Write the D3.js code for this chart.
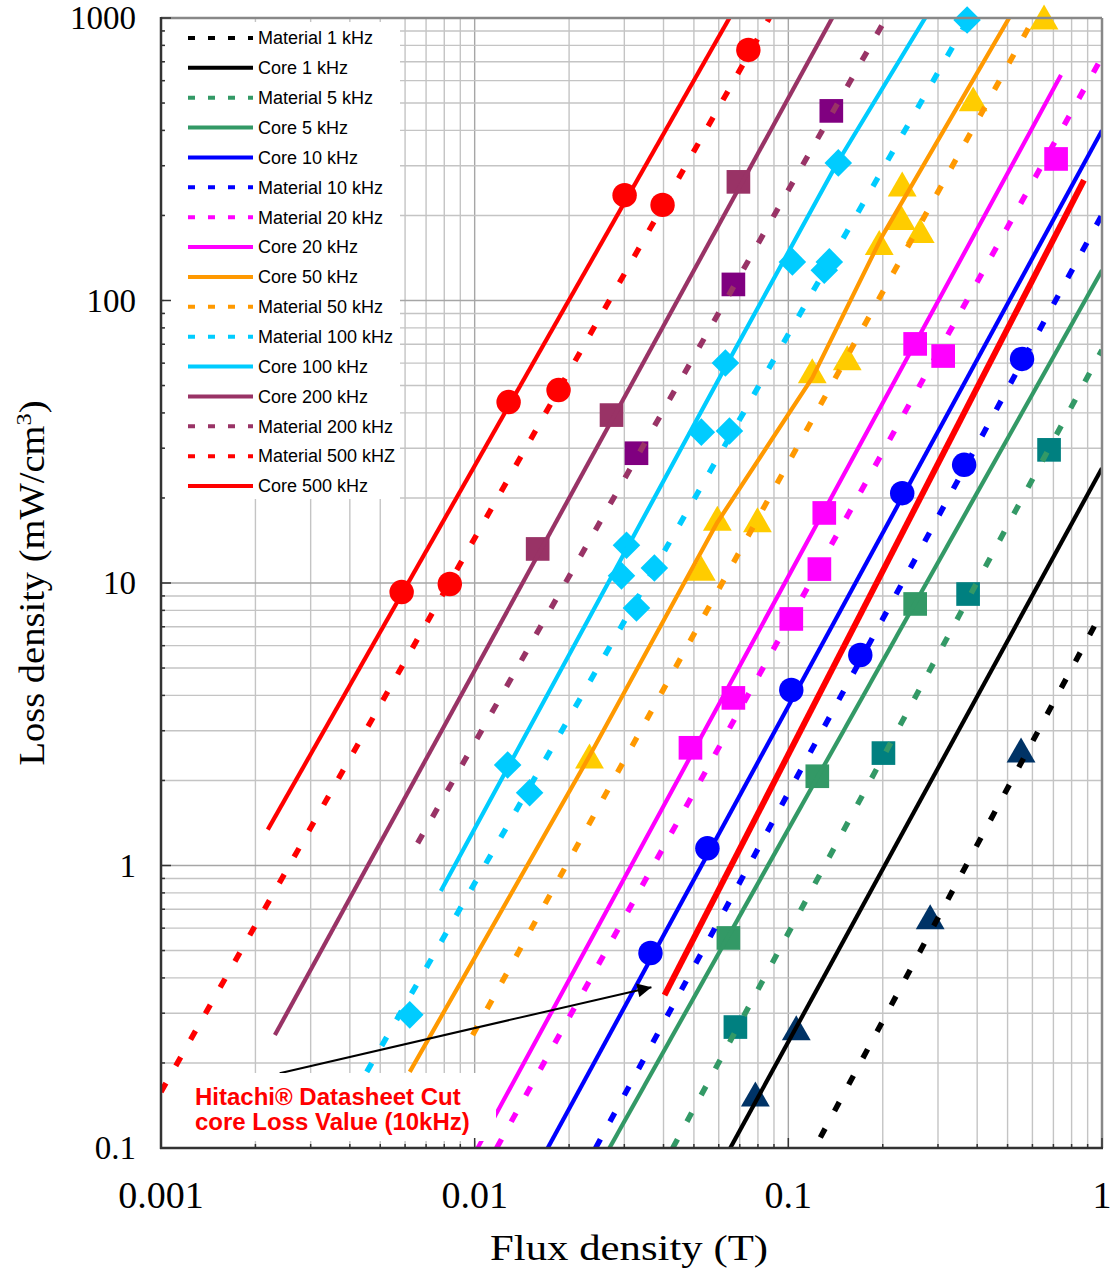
<!DOCTYPE html>
<html>
<head>
<meta charset="utf-8">
<script src="https://cdn.jsdelivr.net/npm/d3@7"></script>
<style>
  body { margin: 0; background: #fff; }
</style>
</head>
<body>
<script>
// canvas and plot box
const width = 1110, height = 1268,
  plotL = 161, plotR = 1102, plotT = 18, plotB = 1148;

// axis ticks
const xTicks = [0.001, 0.01, 0.1, 1];
const xTickLabels = ["0.001", "0.01", "0.1", "1"];
const yTicks = [0.1, 1, 10, 100, 1000];
const yTickLabels = ["0.1", "1", "10", "100", "1000"];

// curves: [flux density (T), loss density (mW/cm3)]
const mat1 = [[0.1265, 0.109], [1.0, 7.9]];
const core1 = [[0.0653, 0.1], [1.0, 25.5]];
const mat5 = [[0.0428, 0.1], [1.0, 66.8]];
const core5 = [[0.0269, 0.1], [1.0, 128]];
const core10 = [[0.0171, 0.1], [1.0, 400]];
const mat10 = [[0.0243, 0.1], [1.0, 201]];
const mat20 = [[0.01175, 0.1], [1.0, 728]];
const core20 = [[0.01022, 0.1], [0.1227, 16.0], [0.74, 628]];
const core50 = [[0.00621, 0.186], [0.02323, 2.44], [0.0594, 16.4], [0.1192, 53.2], [0.1992, 169], [0.5057, 1000]];
const mat50 = [[0.00985, 0.251], [0.607, 1000]];
const mat100 = [[0.00453, 0.186], [0.377, 1000]];
const core100 = [[0.0078, 0.812], [0.0635, 59.1], [0.143, 306], [0.273, 1000]];
const core200 = [[0.002307, 0.251], [0.138, 1000]];
const mat200 = [[0.00658, 1.2], [0.205, 1000]];
const mat500 = [[0.001, 0.158], [0.087, 1000]];
const core500 = [[0.00219, 1.34], [0.0649, 1000]];
const hitachi10 = [[0.0403, 0.348], [0.876, 267]];

// measured points
const circles500 = [[0.00585, 9.29], [0.00833, 9.92], [0.01283, 43.7], [0.01851, 48.2], [0.03006, 236], [0.03972, 218], [0.07457, 771]];
const squares200a = [[0.01588, 13.2], [0.02731, 39.3], [0.06932, 263]];
const squares200b = [[0.0328, 28.8], [0.06681, 114], [0.1371, 469]];
const diamonds100 = [[0.00621, 0.296], [0.01274, 2.27], [0.01497, 1.81], [0.02938, 10.6], [0.03048, 13.6], [0.0328, 8.16], [0.0374, 11.3], [0.0528, 34.2], [0.0649, 34.5], [0.063, 60.1], [0.103, 137], [0.1302, 128], [0.1351, 137], [0.1443, 307], [0.3715, 984]];
const triangles50 = [[0.02323, 2.36], [0.0528, 10.9], [0.0594, 16.4], [0.0797, 16.2], [0.1192, 54.5], [0.1541, 60.6], [0.1949, 155], [0.2291, 190], [0.2307, 250], [0.2633, 171], [0.3884, 500], [0.6535, 975]];
const squares20 = [[0.04875, 2.61], [0.0668, 3.92], [0.1022, 7.46], [0.1256, 11.2], [0.1302, 17.7], [0.2537, 70.2], [0.3116, 63.6], [0.7139, 317]];
const circles10 = [[0.03635, 0.49], [0.0552, 1.15], [0.1022, 4.18], [0.1696, 5.56], [0.2307, 20.8], [0.3635, 26.2], [0.556, 62.1]];
const squares5core = [[0.0644, 0.554], [0.1237, 2.07], [0.2537, 8.43]];
const squares5mat = [[0.0678, 0.268], [0.201, 2.5], [0.3742, 9.14], [0.678, 29.6]];
const triangles1 = [[0.0785, 0.15], [0.106, 0.2575], [0.2833, 0.637], [0.552, 2.48]];

// annotation arrow, tail and head
const arrowFrom = [0.00239, 0.184], arrowTo = [0.0366, 0.371];

// legend order = series order
const series = [
  { label: "Material 1 kHz", data: mat1, color: "#000000", dash: true },
  { label: "Core 1 kHz", data: core1, color: "#000000", dash: false },
  { label: "Material 5 kHz", data: mat5, color: "#339966", dash: true },
  { label: "Core 5 kHz", data: core5, color: "#339966", dash: false },
  { label: "Core 10 kHz", data: core10, color: "#0000ff", dash: false },
  { label: "Material 10 kHz", data: mat10, color: "#0000ff", dash: true },
  { label: "Material 20 kHz", data: mat20, color: "#ff00ff", dash: true },
  { label: "Core 20 kHz", data: core20, color: "#ff00ff", dash: false },
  { label: "Core 50 kHz", data: core50, color: "#ff9900", dash: false },
  { label: "Material 50 kHz", data: mat50, color: "#ff9900", dash: true },
  { label: "Material 100 kHz", data: mat100, color: "#00ccff", dash: true },
  { label: "Core 100 kHz", data: core100, color: "#00ccff", dash: false },
  { label: "Core 200 kHz", data: core200, color: "#993366", dash: false },
  { label: "Material 200 kHz", data: mat200, color: "#993366", dash: true },
  { label: "Material 500 kHZ", data: mat500, color: "#ff0000", dash: true },
  { label: "Core 500 kHz", data: core500, color: "#ff0000", dash: false }
];

const markers = [
  { data: circles500, shape: "circle", color: "#ff0000" },
  { data: squares200a, shape: "square", color: "#993366" },
  { data: squares200b, shape: "square", color: "#800080" },
  { data: diamonds100, shape: "diamond", color: "#00ccff" },
  { data: triangles50, shape: "triangle", color: "#ffcc00" },
  { data: squares20, shape: "square", color: "#ff00ff" },
  { data: circles10, shape: "circle", color: "#0000ff" },
  { data: squares5core, shape: "square", color: "#339966" },
  { data: squares5mat, shape: "square", color: "#008080" },
  { data: triangles1, shape: "triangle", color: "#003366" }
];

// scales
let xScale = d3.scaleLog().domain([0.001, 1]).range([plotL, plotR]);
let yScale = d3.scaleLog().domain([0.1, 1000]).range([plotB, plotT]);

let svg = d3.select("body").append("svg")
  .attr("width", width)
  .attr("height", height)
  .style("font-family", "'Liberation Serif', serif");

const defs = svg.append("defs");
defs.append("clipPath").attr("id", "plot")
  .append("rect")
  .attr("x", plotL).attr("y", plotT)
  .attr("width", plotR - plotL).attr("height", plotB - plotT);
defs.append("marker").attr("id", "head")
  .attr("viewBox", "0 0 10 10").attr("refX", 10).attr("refY", 5)
  .attr("markerWidth", 8).attr("markerHeight", 7)
  .attr("markerUnits", "strokeWidth")
  .attr("orient", "auto")
  .append("path").attr("d", "M0,0L10,5L0,10z").attr("fill", "#000");

// grid lines (1..9 per decade)
const isMajor = v => Math.abs(Math.log10(v) - Math.round(Math.log10(v))) < 1e-6;
let grid = svg.append("g");
grid.selectAll(".gx").data(xScale.ticks())
  .enter().append("line")
  .attr("x1", d => xScale(d)).attr("x2", d => xScale(d))
  .attr("y1", plotT).attr("y2", plotB)
  .attr("stroke", d => isMajor(d) ? "#a6a6a6" : "#c4c4c4")
  .attr("stroke-width", 1.4);
grid.selectAll(".gy").data(yScale.ticks())
  .enter().append("line")
  .attr("y1", d => yScale(d)).attr("y2", d => yScale(d))
  .attr("x1", plotL).attr("x2", plotR)
  .attr("stroke", d => isMajor(d) ? "#a6a6a6" : "#c4c4c4")
  .attr("stroke-width", 1.4);

// markers (under the curves)
const shapes = {
  circle: d3.symbol().type(d3.symbolCircle).size(470),
  square: d3.symbol().type(d3.symbolSquare).size(560),
  diamond: d3.symbol().type(d3.symbolSquare).size(380),
  triangle: d3.symbol().type(d3.symbolTriangle).size(360)
};
let marks = svg.append("g");
markers.forEach(m => {
  marks.selectAll(null).data(m.data)
    .enter().append("path")
    .attr("d", shapes[m.shape]())
    .attr("transform", d => "translate(" + xScale(d[0]) + "," + yScale(d[1]) + ")" + (m.shape === "diamond" ? " rotate(45)" : ""))
    .attr("fill", m.color);
});

// curves
let line = d3.line()
  .x(d => xScale(d[0]))
  .y(d => yScale(d[1]));
let curves = svg.append("g").attr("clip-path", "url(#plot)");
curves.selectAll("path").data(series)
  .enter().append("path")
  .attr("d", d => line(d.data))
  .attr("fill", "none")
  .attr("stroke", d => d.color)
  .attr("stroke-width", d => d.dash ? 5.5 : 4.2)
  .attr("stroke-dasharray", d => d.dash ? "10,20" : null)
  .attr("stroke-linejoin", "round");

// datasheet line
curves.append("path")
  .attr("d", line(hitachi10))
  .attr("fill", "none")
  .attr("stroke", "#ff0000")
  .attr("stroke-width", 6);

// arrow
svg.append("line")
  .attr("x1", xScale(arrowFrom[0])).attr("y1", yScale(arrowFrom[1]))
  .attr("x2", xScale(arrowTo[0])).attr("y2", yScale(arrowTo[1]))
  .attr("stroke", "#000").attr("stroke-width", 2)
  .attr("marker-end", "url(#head)");

// annotation box
let note = svg.append("g");
note.append("rect")
  .attr("x", 186).attr("y", 1073)
  .attr("width", 310).attr("height", 68)
  .attr("fill", "#fff");
note.selectAll("text").data(["Hitachi\u00AE Datasheet Cut", "core Loss Value (10kHz)"])
  .enter().append("text")
  .attr("x", 195)
  .attr("y", (d, i) => 1105 + i * 25)
  .attr("fill", "#ff0000")
  .style("font-family", "'Liberation Sans', Arial, sans-serif")
  .style("font-weight", "bold")
  .style("font-size", "24px")
  .text(d => d);

// legend
let legend = svg.append("g");
legend.append("rect")
  .attr("x", 164).attr("y", 22)
  .attr("width", 236).attr("height", 477)
  .attr("fill", "#fff");
let rows = legend.selectAll("g").data(series)
  .enter().append("g")
  .attr("transform", (d, i) => "translate(0," + (38 + i * 29.87) + ")");
rows.append("line")
  .attr("x1", 188).attr("x2", 253)
  .attr("stroke", d => d.color)
  .attr("stroke-width", 4)
  .attr("stroke-dasharray", d => d.dash ? "7,13" : null);
rows.append("text")
  .attr("x", 258).attr("dy", "0.35em")
  .style("font-family", "'Liberation Sans', Arial, sans-serif")
  .style("font-size", "18px")
  .attr("fill", "#000")
  .text(d => d.label);

// frame
svg.append("line").attr("x1", plotL).attr("x2", plotR).attr("y1", plotT).attr("y2", plotT)
  .attr("stroke", "#888").attr("stroke-width", 2.5);
svg.append("line").attr("x1", plotR).attr("x2", plotR).attr("y1", plotT).attr("y2", plotB)
  .attr("stroke", "#888").attr("stroke-width", 2.5);
svg.append("line").attr("x1", plotL).attr("x2", plotL).attr("y1", plotT - 1).attr("y2", plotB + 1)
  .attr("stroke", "#333").attr("stroke-width", 2.5);
svg.append("line").attr("x1", plotL - 1).attr("x2", plotR + 1).attr("y1", plotB).attr("y2", plotB)
  .attr("stroke", "#333").attr("stroke-width", 2.5);

// inward ticks
let ticks = svg.append("g").attr("stroke", "#333").attr("stroke-width", 1.5);
ticks.selectAll(".tx").data(xScale.ticks())
  .enter().append("line")
  .attr("x1", d => xScale(d)).attr("x2", d => xScale(d))
  .attr("y1", plotB).attr("y2", d => plotB - (isMajor(d) ? 10 : 4));
ticks.selectAll(".ty").data(yScale.ticks())
  .enter().append("line")
  .attr("y1", d => yScale(d)).attr("y2", d => yScale(d))
  .attr("x1", plotL).attr("x2", d => plotL + (isMajor(d) ? 10 : 4));

// tick labels
svg.selectAll(".xl").data(xTicks)
  .enter().append("text")
  .attr("x", d => xScale(d)).attr("y", 1208)
  .attr("text-anchor", "middle")
  .style("font-size", "38px")
  .text((d, i) => xTickLabels[i]);
svg.selectAll(".yl").data(yTicks)
  .enter().append("text")
  .attr("x", 136).attr("y", d => yScale(d) + 11)
  .attr("text-anchor", "end")
  .style("font-size", "33px")
  .text((d, i) => yTickLabels[i]);

// axis titles
svg.append("text")
  .attr("x", 629).attr("y", 1260)
  .attr("text-anchor", "middle")
  .attr("textLength", 278).attr("lengthAdjust", "spacingAndGlyphs")
  .style("font-size", "35px")
  .text("Flux density (T)");

let yTitle = svg.append("text")
  .attr("transform", "translate(44,583) rotate(-90)")
  .attr("text-anchor", "middle")
  .attr("textLength", 365).attr("lengthAdjust", "spacingAndGlyphs")
  .style("font-size", "35px");
yTitle.append("tspan").text("Loss density (mW/cm");
yTitle.append("tspan").attr("dy", -13).style("font-size", "22px").text("3");
yTitle.append("tspan").attr("dy", 13).text(")");
</script>
</body>
</html>
